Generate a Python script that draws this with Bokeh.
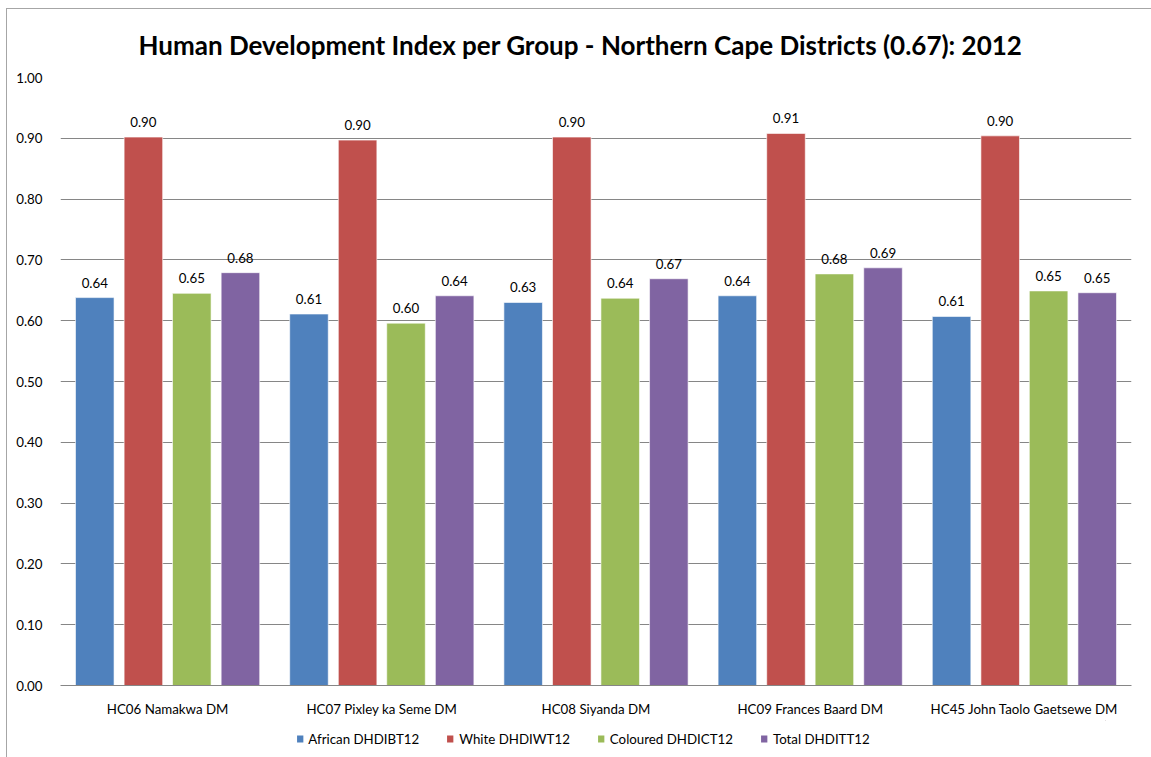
from bokeh.plotting import figure
from bokeh.layouts import column
from bokeh.models import (ColumnDataSource, Range1d, LabelSet, Legend, LegendItem,
                          NumeralTickFormatter, FixedTicker)
from bokeh.transform import dodge
from bokeh.core.properties import value
from bokeh.embed import file_html
from bokeh.resources import INLINE

districts = ["HC06 Namakwa DM", "HC07 Pixley ka Seme DM", "HC08 Siyanda DM",
             "HC09 Frances Baard DM", "HC45 John Taolo Gaetsewe DM"]
african = [0.638, 0.611, 0.630, 0.641, 0.607]
white = [0.902, 0.897, 0.902, 0.908, 0.904]
coloured = [0.645, 0.596, 0.637, 0.677, 0.649]
total = [0.679, 0.641, 0.669, 0.687, 0.646]
series_names = ["African DHDIBT12", "White DHDIWT12", "Coloured DHDICT12", "Total DHDITT12"]
series_values = [african, white, coloured, total]
colors = ["#4F81BD", "#C0504D", "#9BBB59", "#8064A2"]
title_text = "Human Development Index per Group - Northern Cape Districts (0.67): 2012"
y_ticks = [0.0, 0.1, 0.2, 0.3, 0.4, 0.5, 0.6, 0.7, 0.8, 0.9, 1.0]

FONT = "Lato"
FS = "13.3px"

p = figure(width=1144, height=711, x_range=districts, y_range=Range1d(0, 1.0),
           output_backend="svg", toolbar_location=None,
           min_border_left=53, min_border_right=11, min_border_top=66, min_border_bottom=35)

p.title.text = title_text
p.title.align = "left"
p.title.text_font = FONT
p.title.text_font_size = "26px"
p.title.text_font_style = "bold"
p.title.text_color = "#000000"
p.title.offset = 78
p.title.standoff = 34

offsets = [-0.34, -0.113, 0.113, 0.34]
for vals, col, off in zip(series_values, colors, offsets):
    src = ColumnDataSource(dict(x=districts, top=vals, lab=[f"{v:.2f}" for v in vals]))
    p.vbar(x=dodge("x", off, range=p.x_range), top="top", width=0.18, source=src,
           fill_color=col, line_color="#FFFFFF", line_width=1, line_alpha=0.6)
    lbl = LabelSet(x=dodge("x", off, range=p.x_range), y="top", text="lab", source=src,
                   text_align="center", text_baseline="bottom", y_offset=10,
                   text_font=value(FONT), text_font_size=value(FS), text_color="#000000")
    p.add_layout(lbl)

p.outline_line_color = None
p.xgrid.grid_line_color = None
p.ygrid.grid_line_color = "#868686"
p.ygrid.ticker = FixedTicker(ticks=y_ticks)

p.yaxis.ticker = FixedTicker(ticks=y_ticks)
p.yaxis.formatter = NumeralTickFormatter(format="0.00")
p.yaxis.axis_line_color = None
p.yaxis.major_tick_line_color = None
p.yaxis.minor_tick_line_color = None
p.yaxis.major_tick_out = 0
p.yaxis.major_tick_in = 0
p.yaxis.major_label_standoff = 18
p.yaxis.major_label_text_font = FONT
p.yaxis.major_label_text_font_size = FS
p.yaxis.major_label_text_color = "#000000"

p.xaxis.axis_line_color = "#868686"
p.xaxis.major_tick_line_color = None
p.xaxis.major_tick_out = 0
p.xaxis.major_tick_in = 0
p.xaxis.major_label_standoff = 15
p.xaxis.major_label_text_font = FONT
p.xaxis.major_label_text_font_size = FS
p.xaxis.major_label_text_color = "#000000"

# legend strip below the chart
p2 = figure(width=1118, height=37, x_range=Range1d(0, 1), y_range=Range1d(0, 1),
            output_backend="svg", toolbar_location=None,
            min_border_left=0, min_border_right=20, min_border_top=0, min_border_bottom=0)
p2.axis.visible = False
p2.grid.visible = False
p2.outline_line_color = None
items = []
for name, col in zip(series_names, colors):
    r = p2.vbar(x=[5], top=[5], bottom=[4], width=0.1, fill_color=col, line_color=None)
    items.append(LegendItem(label=name, renderers=[r]))
legend = Legend(items=items, orientation="horizontal", location="center",
                glyph_width=8, glyph_height=9, label_standoff=5, spacing=27,
                padding=0, margin=0, border_line_color=None, background_fill_alpha=0,
                label_text_font=FONT, label_text_font_size=FS, label_text_color="#000000")
p2.add_layout(legend, "center")

layout = column(p, p2, spacing=0,
                styles={"margin-top": "8px", "margin-left": "6px",
                        "border-top": "1px solid #a6a6a6", "border-left": "1px solid #a6a6a6"})
open("out.html", "w").write(file_html(layout, INLINE))
